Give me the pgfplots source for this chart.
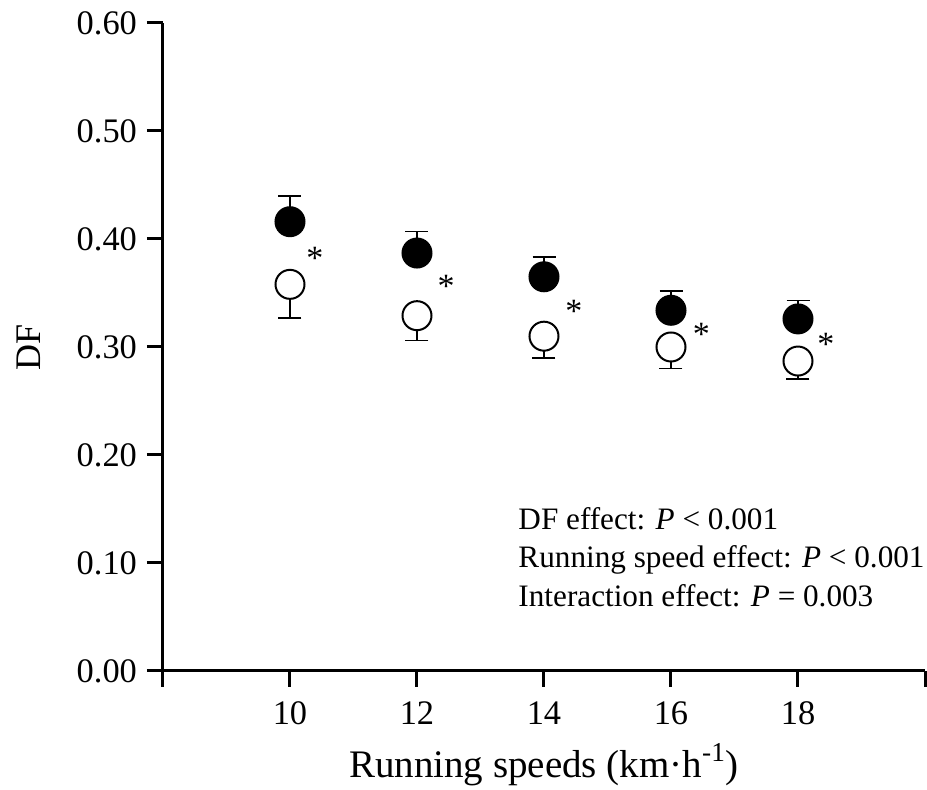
\documentclass[border=0pt]{standalone}
\usepackage{pgfplots}
\pgfplotsset{compat=1.18}
\usepackage{fontspec}
\setmainfont{Liberation Serif}

\begin{document}
\begin{tikzpicture}
\begin{axis}[
  scale only axis,
  width=381pt, height=324pt,
  xmin=8, xmax=20, ymin=0, ymax=0.6,
  clip=false,
  axis x line=bottom, axis y line=left,
  axis line style={-, line width=1.5pt},
  every tick/.style={black, line width=1.5pt},
  tick align=outside,
  major tick length=8pt,
  xtick={8,10,12,14,16,18,20},
  xticklabels={,10,12,14,16,18,},
  ytick={0,0.1,0.2,0.3,0.4,0.5,0.6},
  tick label style={font=\fontsize{17.2}{19}\selectfont},
  xticklabel style={yshift=-4pt},
  yticklabel style={xshift=-1.5pt, /pgf/number format/.cd, fixed, fixed zerofill, precision=2},
  /pgf/number format/assume math mode=true,
  xlabel={Running speeds (km·h\textsuperscript{-1})},
  ylabel={DF},
  every axis x label/.style={at={(axis description cs:0.5,-0.1636)}, anchor=base, font=\fontsize{19.5}{22}\selectfont},
  every axis y label/.style={at={(axis description cs:-0.1759,0.5)}, rotate=90, anchor=center, font=\fontsize{18}{20}\selectfont},
]
% filled circles (upper error bars)
\addplot[only marks, mark=*, mark size=7.25pt,
  mark options={fill=black, draw=black, line width=1pt},
  error bars/.cd, y dir=plus, y explicit,
  error bar style={line width=0.9pt, black},
  error mark options={rotate=90, mark size=5.75pt, line width=0.9pt, black}]
coordinates {
  (10,0.416) +- (0,0.024)
  (12,0.387) +- (0,0.020)
  (14,0.365) +- (0,0.018)
  (16,0.334) +- (0,0.018)
  (18,0.326) +- (0,0.017)
};
% open circles (lower error bars)
\addplot[only marks, mark=*, mark size=7.25pt,
  mark options={fill=white, draw=black, line width=1pt},
  error bars/.cd, y dir=minus, y explicit,
  error bar style={line width=0.9pt, black},
  error mark options={rotate=90, mark size=5.75pt, line width=0.9pt, black}]
coordinates {
  (10,0.358) +- (0,0.031)
  (12,0.329) +- (0,0.023)
  (14,0.310) +- (0,0.0205)
  (16,0.300) +- (0,0.020)
  (18,0.287) +- (0,0.0165)
};
% significance asterisks
\addplot[draw=none, mark=none, nodes near coords={*},
  every node near coord/.append style={anchor=center, inner sep=0pt, font=\fontsize{17}{17}\selectfont}]
coordinates {
  (10.39,0.382)
  (12.46,0.356)
  (14.47,0.333)
  (16.48,0.312)
  (18.44,0.302)
};
\node[anchor=base west, inner sep=0pt, font=\fontsize{15.6}{19}\selectfont] at (rel axis cs:0.466,0.2176) {DF effect: \textit{P} < 0.001};
\node[anchor=base west, inner sep=0pt, font=\fontsize{15.6}{19}\selectfont] at (rel axis cs:0.466,0.159) {Running speed effect: \textit{P} < 0.001};
\node[anchor=base west, inner sep=0pt, font=\fontsize{15.6}{19}\selectfont] at (rel axis cs:0.466,0.0988) {Interaction effect: \textit{P} = 0.003};
\end{axis}
\pgfresetboundingbox
\path[use as bounding box] ([xshift=-81.5pt,yshift=-59.5pt]current axis.south west) rectangle ([xshift=1pt,yshift=11.5pt]current axis.north east);
\end{tikzpicture}
\end{document}
